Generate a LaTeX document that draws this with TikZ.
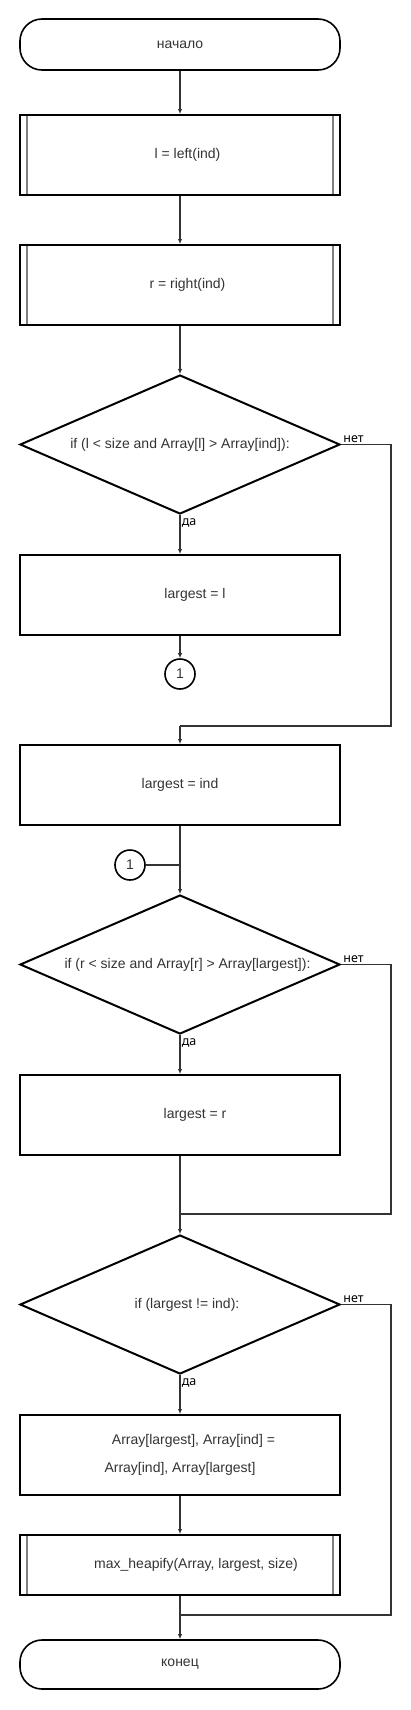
\documentclass[tikz,border=0pt]{standalone}
\usepackage{fontspec}
\setmainfont{Liberation Sans}
\newfontfamily\labelfont{Noto Sans}
\usetikzlibrary{shapes.geometric,arrows.meta}

\tikzset{
    every node/.style={font=\fontsize{14}{28}\selectfont, text=black!80},
    term/.style={draw, line width=1.6pt, rounded corners=22pt, minimum width=320pt, minimum height=50pt},
    proc/.style={draw, line width=2pt, minimum width=320pt, minimum height=80pt},
    sub/.style={proc, path picture={
        \draw [line width=2pt, gray] ([xshift=7pt]path picture bounding box.north west) -- ([xshift=7pt]path picture bounding box.south west)
            ([xshift=-7pt]path picture bounding box.north east) -- ([xshift=-7pt]path picture bounding box.south east);}},
    cond/.style={draw, diamond, line width=2pt, aspect=2.3, inner sep=0pt, minimum width=320pt, minimum height=139pt},
    conn/.style={draw, circle, line width=1.6pt, minimum size=30pt, inner sep=0pt},
    ans/.style={font=\labelfont\fontsize{12.5}{14}\selectfont, text=black, inner sep=1pt},
    flow/.style={draw, line width=1.5pt, black!80}
}

\begin{document}
\begin{tikzpicture}[x=1pt, y=-1pt, >={Latex[length=5pt,width=4.5pt]}]
    \useasboundingbox (0,0) rectangle (410,1710);
    \node [term, minimum height=51pt] at (180,44.5) (a) {начало};
    \node [sub] at (180,155) (b) {\hspace*{15pt}l = left(ind)};
    \node [sub] at (180,285) (c) {\hspace*{15pt}r = right(ind)};
    \node [cond] at (180,444.5) (d) {if (l < size and Array[l] > Array[ind]):};
    \node [proc] at (180,595) (e) {\hspace*{30pt}largest = l};
    \node [conn] at (180,674) (f) {1};
    \node [proc] at (180,785) (g) {largest = ind};
    \node [conn] at (130,865) (h) {1};
    \node [cond] at (180,964.5) (i) {\hspace*{15pt}if (r < size and Array[r] > Array[largest]):};
    \node [proc] at (180,1115) (j) {\hspace*{30pt}largest = r};
    \node [cond] at (180,1304.5) (k) {\hspace*{14pt}if (largest != ind):};
    \node [proc, align=center] at (180,1455) (l) {\hspace*{27pt}Array[largest], Array[ind] =\\Array[ind], Array[largest]};
    \node [sub, minimum height=60pt] at (180,1565) (m) {\hspace*{32pt}max\_heapify(Array, largest, size)};
    \node [term, minimum height=49pt] at (180,1664.5) (n) {конец};
    \coordinate (p) at (180,726);
    \coordinate (q) at (180,1214);
    \coordinate (s) at (180,1615);
    \path [flow, ->] (a) -- (b);
    \path [flow, ->] (b) -- (c);
    \path [flow, ->] (c) -- (d);
    \path [flow, ->] (d) -- node [ans, pos=0.2, right] {да} (e);
    \path [flow, ->] (e) -- (f);
    \path [flow] (d.east) -- node [ans, pos=0.25, above] {нет} ++(50,0) |- (p);
    \path [flow, ->] (p) -- (g);
    \path [flow] (h) -- (h -| g);
    \path [flow, ->] (g) -- (i);
    \path [flow, ->] (i) -- node [ans, pos=0.2, right] {да} (j);
    \path [flow] (j) -- (q);
    \path [flow] (i.east) -- node [ans, pos=0.25, above] {нет} ++(50,0) |- (q);
    \path [flow, ->] (q) -- (k);
    \path [flow, ->] (k) -- node [ans, pos=0.2, right] {да} (l);
    \path [flow, ->] (l) -- (m);
    \path [flow] (m) -- (s);
    \path [flow] (k.east) -- node [ans, pos=0.25, above] {нет} ++(50,0) |- (s);
    \path [flow, ->] (s) -- (n);
\end{tikzpicture}
\end{document}
